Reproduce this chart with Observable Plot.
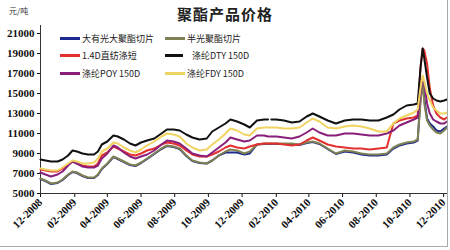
<!DOCTYPE html>
<html>
<head>
<meta charset="utf-8">
<script src="https://cdn.jsdelivr.net/npm/d3@7"></script>
<script src="https://cdn.jsdelivr.net/npm/@observablehq/plot@0.6"></script>
<style>
  html, body { margin: 0; padding: 0; background: #fff; }
  #wrap { position: relative; width: 450px; height: 250px; background: #fff; overflow: hidden; }
  #wrap .bord { position: absolute; left: 0; top: 0; width: 447px; height: 246px; border-right: 1px solid #aaa; border-bottom: 1px solid #aaa; pointer-events: none; }
  #head { position: relative; height: 22px; }
  #title { position: absolute; left: 0; width: 450px; top: 3px; text-align: center; font-family: "Noto Sans CJK SC", sans-serif; font-size: 15px; font-weight: 600; color: #222; letter-spacing: 1px; }
  #unit { position: absolute; left: 9px; top: 5px; font-family: "Noto Sans CJK SC", sans-serif; font-size: 8px; color: #333; }
  #legend { position: absolute; left: 0; top: 0; font-family: "Noto Sans CJK SC", sans-serif; font-size: 9px; color: #222; }
  .li { position: absolute; white-space: nowrap; line-height: 10px; }
  .sw { display: inline-block; width: 20px; height: 3px; vertical-align: middle; margin-right: 2px; position: relative; top: -1px; }
</style>
</head>
<body>
<div id="wrap">
  <div id="head"><div id="unit">元/吨</div><div id="title">聚酯产品价格</div></div>
  <div id="chart"></div>
  <div id="legend"></div>
  <div class="bord"></div>
</div>
<script>
const dates = [
  "2008-12-01","2008-12-10","2008-12-20","2009-01-01","2009-01-10","2009-01-20","2009-01-28","2009-02-05",
  "2009-02-15","2009-02-25","2009-03-08","2009-03-15","2009-03-22","2009-04-01","2009-04-12","2009-04-20",
  "2009-05-01","2009-05-12","2009-05-22","2009-06-01","2009-06-12","2009-06-25","2009-07-08","2009-07-18",
  "2009-07-30","2009-08-10","2009-08-22","2009-09-02","2009-09-15","2009-09-28","2009-10-08","2009-10-20",
  "2009-11-01","2009-11-10","2009-11-22","2009-12-05","2009-12-15","2009-12-28","2010-01-10","2010-01-17","2010-01-20","2010-01-23",
  "2010-02-01","2010-02-15","2010-03-01","2010-03-15","2010-03-28","2010-04-08","2010-04-20","2010-05-05",
  "2010-05-20","2010-06-05","2010-06-20","2010-07-05","2010-07-20","2010-08-05","2010-08-20","2010-09-01",
  "2010-09-12","2010-09-25","2010-10-08","2010-10-15","2010-10-20","2010-10-24","2010-10-27","2010-11-01",
  "2010-11-06","2010-11-12","2010-11-18","2010-11-25","2010-12-02","2010-12-07"
];

const seriesNames = ["大有光大聚酯切片","半光聚酯切片","1.4D直纺涤短","涤纶DTY 150D","涤纶POY 150D","涤纶FDY 150D"];
const seriesColors = ["#1c2a8f","#7f8152","#e2312f","#111111","#8a1f7a","#f0d462"];

const brightChips = [6450,6250,5950,6050,6350,6850,7150,7050,6750,6550,6550,6850,7450,7950,8650,8450,
  8150,7850,7750,8050,8450,8950,9450,9750,9650,9450,8750,8250,8050,8000,8300,8800,
  9100,9100,9100,8900,9000,9900,9950,9950,9950,9950,9950,9950,9950,9850,10050,10150,9950,9450,
  8950,9200,9100,8900,8800,8800,8900,9500,9800,10000,10100,10300,14500,16000,14500,12500,
  12000,11700,11300,11200,11500,11700];
const semiChips = [6500,6300,6000,6100,6400,6900,7200,7100,6800,6600,6600,6900,7500,8000,8700,8500,
  8200,7900,7800,8100,8500,9000,9500,9800,9700,9500,8800,8300,8100,8000,8300,8800,
  9200,9400,9300,9000,9200,9900,10000,10000,10000,10000,10000,10000,10000,9900,10100,10200,10000,9500,
  9000,9300,9200,9000,8900,8900,9000,9600,9900,10100,10200,10400,14000,16300,14000,12300,
  11800,11400,11100,11000,11300,11600];
const staple = [7400,7300,7200,7200,7500,7900,8200,8000,7800,7700,7700,8000,8800,9100,9700,9500,
  9200,8900,8800,9000,9300,9500,9900,10100,10000,9800,9300,8900,8700,8700,8900,9200,
  9600,9800,9600,9500,9700,9900,10000,10000,10000,10000,10000,9900,9800,9900,10300,10600,10300,9900,
  9700,9600,9500,9500,9400,9500,9600,12000,12300,12500,12600,12800,17500,19500,19300,18000,
  15500,13800,13000,12600,12400,12600];
const dty = [8400,8300,8200,8200,8400,8800,9300,9200,9000,8900,8900,9200,9900,10200,10800,10700,
  10400,10000,9800,10100,10300,10500,11000,11400,11400,11300,10900,10600,10400,10500,11200,11600,
  12000,12400,12200,11900,11600,12300,12400,12400,null,12400,12400,12300,12100,12200,12700,13000,12700,12300,
  12000,12300,12400,12400,12300,12300,12600,12900,13400,13800,13900,14000,17500,19500,18500,16600,
  15000,14500,14300,14200,14300,14400];
const poy = [7100,6900,6700,6900,7200,7800,8200,8000,7700,7600,7600,7800,8500,9000,9800,9600,
  9100,8700,8500,8700,8900,9300,9900,10300,10200,10000,9500,9000,8800,8700,9100,9600,
  10100,10600,10400,10200,10300,10800,10800,10700,10700,10700,10700,10600,10500,10700,11100,11500,11100,10800,
  10800,11000,11000,10900,10800,10800,11000,11300,11800,12100,12400,12600,15000,16500,16000,14000,
  13000,12400,12200,12000,12000,12200];
const fdy = [7500,7400,7300,7300,7600,8000,8300,8200,8000,8000,8100,8500,9200,9500,10100,10000,
  9600,9300,9100,9400,9800,10200,10700,11000,10900,10700,10000,9600,9300,9400,9900,10400,
  11000,11500,11300,10900,10800,11500,11600,11600,11600,11600,11600,11500,11500,11600,12100,12500,12200,11600,
  11500,11700,11800,11700,11500,11200,11200,12000,12500,12800,13100,13400,15500,16800,16200,15000,
  14300,13600,13300,13000,13000,13100];

const valueLists = [brightChips, semiChips, staple, dty, poy, fdy];
const yTicks = [5000,7000,9000,11000,13000,15000,17000,19000,21000];
const xTickLabels = ["2008-12-01","2009-02-01","2009-04-01","2009-06-01","2009-08-01","2009-10-01","2009-12-01",
  "2010-02-01","2010-04-01","2010-06-01","2010-08-01","2010-10-01","2010-12-01"];

const rows = seriesNames.flatMap((name, k) =>
  dates.map((d, i) => ({date: new Date(d + "T00:00:00Z"), value: valueLists[k][i] == null ? undefined : valueLists[k][i], name})));

const fmt = d3.utcFormat("%m-%Y");

const plot = Plot.plot({
  width: 450,
  height: 228,
  marginTop: 3,
  marginLeft: 40,
  marginRight: 3,
  marginBottom: 57,
  style: {fontFamily: "'Liberation Serif', serif", fontSize: "11px", fontWeight: "bold", color: "#111", background: "transparent"},
  x: {type: "utc", domain: [new Date("2008-12-01T00:00:00Z"), new Date("2010-12-08T00:00:00Z")], ticks: xTickLabels.map(d => new Date(d + "T00:00:00Z")), tickFormat: fmt, tickRotate: -45, tickSize: 4, tickPadding: 3, label: null},
  y: {domain: [5000, 21800], ticks: yTicks, tickFormat: d => String(d), tickSize: 3, tickPadding: 3, label: null},
  color: {domain: seriesNames, range: seriesColors},
  marks: [
    Plot.ruleX([new Date("2008-12-01T00:00:00Z")], {stroke: "#333"}),
    Plot.ruleY([5000], {stroke: "#333"}),
    Plot.line(rows, {x: "date", y: "value", z: "name", stroke: "name", strokeWidth: 2, curve: "linear"})
  ]
});
document.getElementById("chart").appendChild(plot);

const legendPos = [[60,34],[165,34],[60,51],[165,51],[60,69],[165,69]];
const lg = document.getElementById("legend");
seriesNames.forEach((name, k) => {
  const el = document.createElement("div");
  el.className = "li";
  el.style.left = legendPos[k][0] + "px";
  el.style.top = legendPos[k][1] + "px";
  const sw = document.createElement("span");
  sw.className = "sw";
  sw.style.background = seriesColors[k];
  if (k === 3) { sw.style.marginRight = "9px"; sw.style.width = "18px"; }
  el.appendChild(sw);
  el.appendChild(document.createTextNode(name));
  lg.appendChild(el);
});
</script>
</body>
</html>
